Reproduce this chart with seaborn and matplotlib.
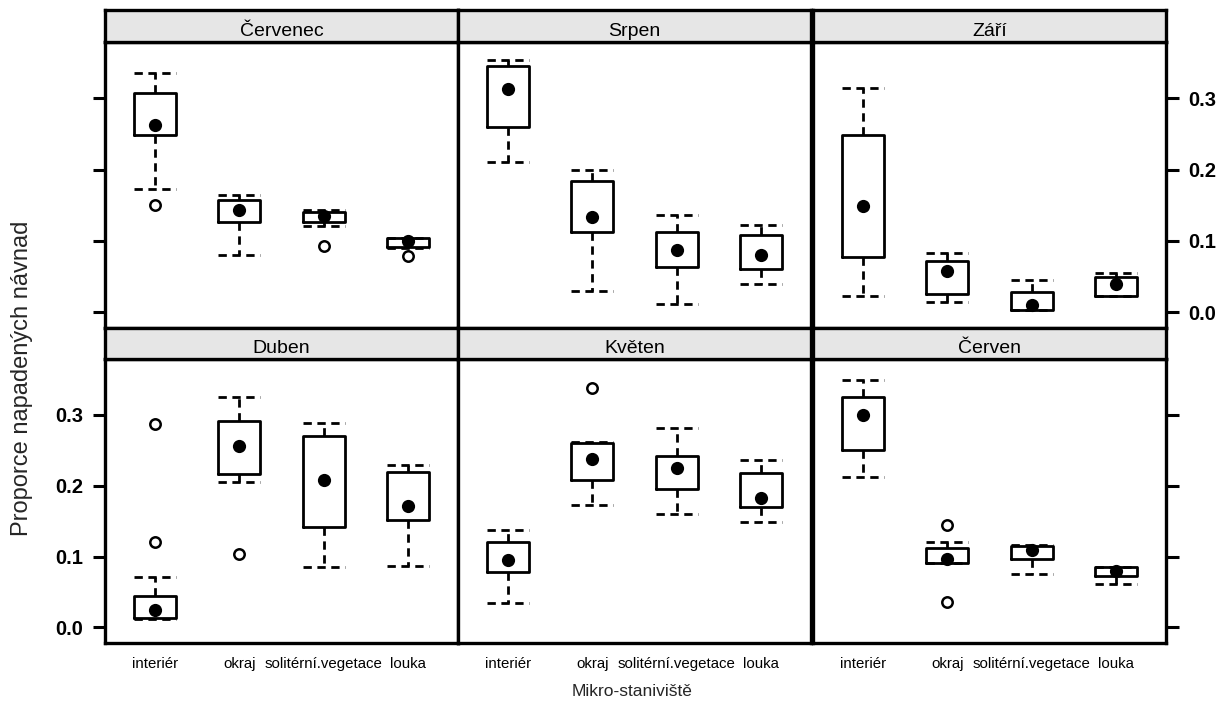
import numpy as np
import pandas as pd
import matplotlib
matplotlib.use("Agg")
import matplotlib.pyplot as plt
import seaborn as sns

# ---------------- data ----------------
months = ["Červenec", "Srpen", "Září", "Duben", "Květen", "Červen"]
sites = ["interiér", "okraj", "solitérní.vegetace", "louka"]

whisker_lo = [
    [0.173, 0.080, 0.121, 0.090],   # Červenec
    [0.211, 0.030, 0.011, 0.039],   # Srpen
    [0.023, 0.014, 0.003, 0.023],   # Září
    [0.012, 0.206, 0.086, 0.087],   # Duben
    [0.034, 0.173, 0.160, 0.149],   # Květen
    [0.213, 0.091, 0.076, 0.062],   # Červen
]
q1 = [
    [0.248, 0.127, 0.127, 0.091],
    [0.260, 0.112, 0.064, 0.061],
    [0.078, 0.025, 0.003, 0.023],
    [0.014, 0.216, 0.142, 0.152],
    [0.078, 0.208, 0.195, 0.170],
    [0.251, 0.091, 0.097, 0.072],
]
median = [
    [0.262, 0.143, 0.135, 0.100],
    [0.313, 0.133, 0.088, 0.081],
    [0.149, 0.058, 0.010, 0.039],
    [0.024, 0.256, 0.208, 0.171],
    [0.095, 0.238, 0.225, 0.183],
    [0.300, 0.096, 0.110, 0.080],
]
q3 = [
    [0.308, 0.158, 0.140, 0.104],
    [0.346, 0.184, 0.112, 0.109],
    [0.248, 0.072, 0.029, 0.050],
    [0.045, 0.291, 0.270, 0.220],
    [0.120, 0.261, 0.242, 0.218],
    [0.325, 0.112, 0.115, 0.086],
]
whisker_hi = [
    [0.335, 0.164, 0.143, 0.104],
    [0.354, 0.199, 0.137, 0.122],
    [0.315, 0.083, 0.046, 0.055],
    [0.071, 0.326, 0.289, 0.230],
    [0.138, 0.262, 0.281, 0.237],
    [0.350, 0.120, 0.117, 0.086],
]
outlier_month = ["Červenec", "Červenec", "Červenec", "Duben", "Duben", "Duben",
                 "Květen", "Červen", "Červen"]
outlier_site = ["interiér", "solitérní.vegetace", "louka", "interiér", "interiér",
                "okraj", "okraj", "okraj", "okraj"]
outlier_value = [0.150, 0.093, 0.079, 0.287, 0.121, 0.103, 0.338, 0.144, 0.036]

y_ticks = [0.0, 0.1, 0.2, 0.3]
y_label = "Proporce napadených návnad"
x_label = "Mikro-staniviště"

# ---------------- tables for seaborn ----------------
rows = []
for mi, m in enumerate(months):
    for si, s in enumerate(sites):
        for v in (whisker_lo[mi][si], q1[mi][si], median[mi][si], q3[mi][si], whisker_hi[mi][si]):
            rows.append({"month": m, "site": s, "value": v})
box_df = pd.DataFrame(rows)
med_df = pd.DataFrame([{"month": m, "site": s, "value": median[mi][si]}
                       for mi, m in enumerate(months) for si, s in enumerate(sites)])
out_df = pd.DataFrame({"month": outlier_month, "site": outlier_site, "value": outlier_value})

# ---------------- style ----------------
sns.set_style("white")
FAM = ["Liberation Sans", "DejaVu Sans"]
plt.rcParams["font.family"] = FAM

W, H = 1229, 707
fig = plt.figure(figsize=(W / 100, H / 100), dpi=100)

col_x = [105, 458, 813]
col_w = 353
rows_px = [(10, 42, 328), (328, 359, 643)]  # strip top, panel top, panel bottom

dash = (0, (3, 2))
lw = 2.0

for idx, m in enumerate(months):
    r, c = divmod(idx, 3)
    st, pt, pb = rows_px[r]
    x0 = col_x[c]
    ax = fig.add_axes([x0 / W, 1 - pb / H, col_w / W, (pb - pt) / H])
    sax = fig.add_axes([x0 / W, 1 - pt / H, col_w / W, (pt - st) / H])

    sub = box_df[box_df["month"] == m]
    sns.boxplot(data=sub, x="site", y="value", order=sites, ax=ax,
                whis=np.inf, width=0.5, fill=False, color="black",
                linewidth=lw, showfliers=False, capwidths=0.5,
                medianprops={"visible": False},
                whiskerprops={"linestyle": dash},
                capprops={"linestyle": dash})
    sns.stripplot(data=med_df[med_df["month"] == m], x="site", y="value",
                  order=sites, ax=ax, jitter=False, color="black", size=9.5,
                  linewidth=0, zorder=5)
    osub = out_df[out_df["month"] == m]
    if len(osub):
        sns.stripplot(data=osub, x="site", y="value", order=sites, ax=ax,
                      jitter=False, color="white", edgecolor="black",
                      linewidth=1.8, size=7.5, zorder=5)

    ax.set_xlim(-0.6, 3.6)
    ax.set_ylim(-0.022, 0.379)
    ax.set_xlabel("")
    ax.set_ylabel("")
    ax.set_yticks(y_ticks)
    ax.set_yticklabels([f"{t:.1f}" for t in y_ticks], fontweight="bold", fontsize=14.5)
    ax.set_xticks(range(len(sites)))
    ax.set_xticklabels(sites, fontsize=10.8)
    for sp in ax.spines.values():
        sp.set_visible(True)
        sp.set_linewidth(2.4)
        sp.set_color("black")

    left_on = (c == 0)
    right_on = (c == 2)
    ax.tick_params(axis="y", which="both", direction="out", length=9, width=2.2,
                   left=left_on, right=right_on,
                   labelleft=(left_on and r == 1), labelright=(right_on and r == 0),
                   pad=7, colors="black")
    ax.tick_params(axis="x", length=0, bottom=False, top=False,
                   labelbottom=(r == 1), pad=10, colors="black")

    sax.set_facecolor("#e6e6e6")
    sax.set_xticks([])
    sax.set_yticks([])
    for sp in sax.spines.values():
        sp.set_linewidth(2.4)
        sp.set_color("black")
    sax.text(0.5, 0.2, m, transform=sax.transAxes, ha="center", va="baseline",
             fontsize=14, color="black")

fig.text(22 / W, 1 - 378 / H, y_label, rotation=90, ha="center", va="center",
         fontsize=17)
fig.text(632 / W, 1 - 692 / H, x_label, ha="center", va="center", fontsize=12.5)

fig.savefig("out.png", dpi=100, facecolor="white")
